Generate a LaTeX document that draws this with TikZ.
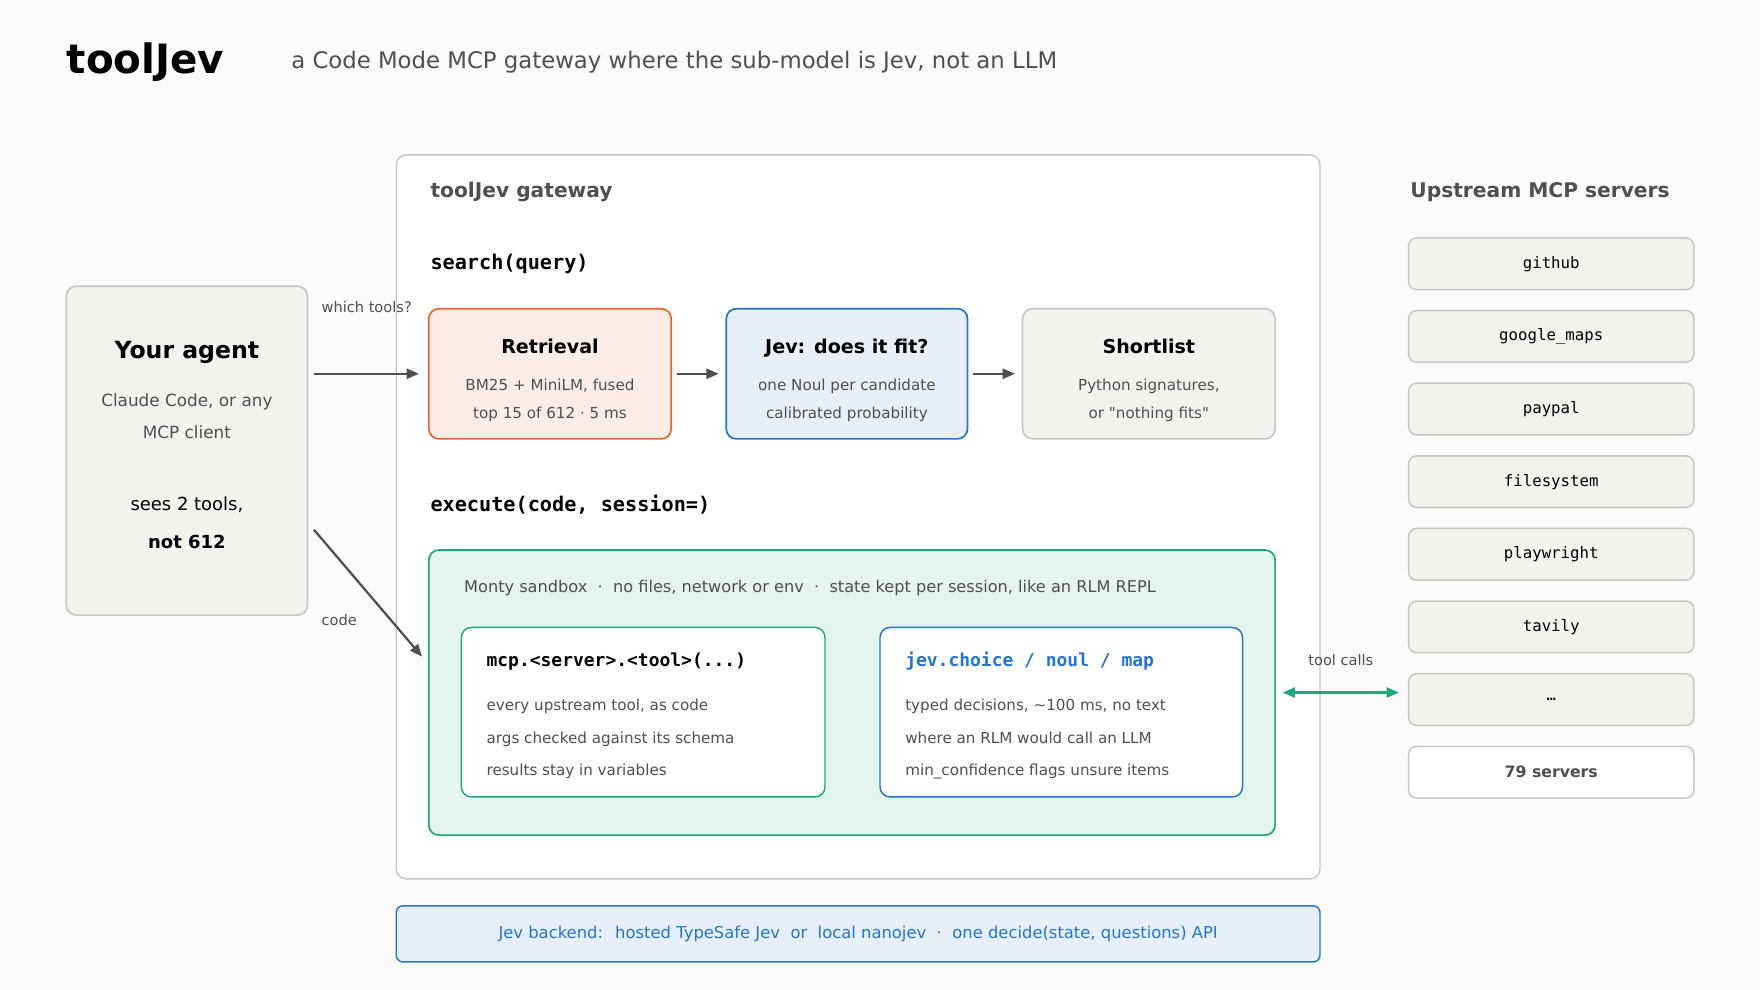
\documentclass[tikz,border=0pt]{standalone}
\usepackage{fontspec}
\setmainfont{DejaVu Sans}
\setsansfont{DejaVu Sans}
\setmonofont{DejaVu Sans Mono}
\newfontfamily\plainquotes{DejaVu Sans}[Ligatures=ResetAll]
\definecolor{jvorange}{HTML}{E8622C}
\definecolor{jvblue}{HTML}{2374D5}
\definecolor{jvgreen}{HTML}{1AAA78}
\definecolor{jvgray}{HTML}{C6C6C2}
\definecolor{jvtext}{HTML}{4F4F4F}
\definecolor{jvbg}{HTML}{FBFBF9}
\definecolor{jvpanel}{HTML}{F3F2EF}
\usetikzlibrary{arrows.meta,positioning,calc}
\newcommand{\fs}[1]{\fontsize{#1}{#1}\selectfont}

\begin{document}
\begin{tikzpicture}[x=1pt, y=-1pt,
  box/.style={draw=#1, line width=1.5pt, rounded corners=9pt, inner sep=0pt},
  card/.style={draw=jvgray, fill=jvpanel, line width=1.3pt, rounded corners=7pt,
    inner sep=0pt, minimum width=254pt, minimum height=46pt, font=\fs{14}\ttfamily},
  head/.style={anchor=base, font=\fs{17}\bfseries, text=black},
  body/.style={anchor=base, font=\fs{13.5}, text=jvtext},
  code/.style={anchor=base west, font=\fs{18}\ttfamily\bfseries, text=black},
  flow/.style={-{Triangle[length=11pt,width=9pt]}, line width=2pt, draw=jvtext}
]
  \useasboundingbox[fill=jvbg] (0,0) rectangle (1568,882);

  % Title
  \node[anchor=west, font=\fs{36}\bfseries] (title) at (56,55) {toolJev};
  \node[anchor=west, font=\fs{20.3}, text=jvtext] (subtitle) at (256,55)
    {a Code Mode MCP gateway where the sub-model is Jev, not an LLM};

  % Gateway frame
  \node[box=jvgray, line width=1.3pt, fill=white, minimum width=823pt, minimum height=645pt]
    (gateway) at (764.5,460.5) {};
  \node[anchor=base west, font=\fs{18}\bfseries, text=jvtext] at (380,176) {toolJev gateway};
  \node[code] (search) at (380,240) {search(query)};

  % Search pipeline
  \node[box=jvorange, fill=jvorange!12, minimum width=216pt, minimum height=116pt] (retrieval) at (490,333) {};
  \node[box=jvblue, fill=jvblue!11, minimum width=215pt, minimum height=116pt] (jev) at (754.5,333) {};
  \node[box=jvgray, fill=jvpanel, minimum width=225pt, minimum height=116pt] (shortlist) at (1023.5,333) {};
  \node[head] at (490,315) {Retrieval};
  \node[body] at (490,348) {BM25 + MiniLM, fused};
  \node[body] at (490,373) {top 15 of 612 · 5 ms};
  \node[head] at (754.5,315) {Jev: does it fit?};
  \node[body] at (754.5,348) {one Noul per candidate};
  \node[body] at (754.5,373) {calibrated probability};
  \node[head] at (1023.5,315) {Shortlist};
  \node[body] at (1023.5,348) {Python signatures,};
  \node[body, font=\fs{13.5}\plainquotes] at (1023.5,373) {or "nothing fits"};
  \draw[flow, shorten <=4pt, shorten >=6pt] (retrieval) -- (jev);
  \draw[flow, shorten <=4pt, shorten >=6pt] (jev) -- (shortlist);

  % Execute
  \node[code] (execute) at (380,456) {execute(code, session=)};
  \node[box=jvgreen, fill=jvgreen!12, minimum width=754pt, minimum height=254pt] (sandbox) at (759,617) {};
  \node[anchor=base west, font=\fs{14.4}, text=jvtext] at (410,528)
    {Monty sandbox \ · \ no files, network or env \ · \ state kept per session, like an RLM REPL};
  \node[box=jvgreen, line width=1.3pt, fill=white, minimum width=324pt, minimum height=151pt] (mcpbox) at (573,634.5) {};
  \node[box=jvblue, line width=1.3pt, fill=white, minimum width=323pt, minimum height=151pt] (jevbox) at (945.5,634.5) {};
  \node[anchor=base west, font=\fs{16}\ttfamily\bfseries] at (430,594) {mcp.<server>.<tool>(...)};
  \node[anchor=base west, font=\fs{16}\ttfamily\bfseries, text=jvblue] at (803,594) {jev.choice / noul / map};
  \node[body, anchor=base west] at (430,633) {every upstream tool, as code};
  \node[body, anchor=base west] at (430,662) {args checked against its schema};
  \node[body, anchor=base west] at (430,691) {results stay in variables};
  \node[body, anchor=base west] at (803,633) {typed decisions, \textasciitilde100 ms, no text};
  \node[body, anchor=base west] at (803,662) {where an RLM would call an LLM};
  \node[body, anchor=base west] at (803,691) {min\_confidence flags unsure items};

  % Agent
  \node[box=jvgray, fill=jvpanel, minimum width=215pt, minimum height=293pt] (agent) at (166.5,401.5) {};
  \node[anchor=base, font=\fs{21}\bfseries] at (166.5,319) {Your agent};
  \node[anchor=base, font=\fs{15}, text=jvtext] at (166.5,362) {Claude Code, or any};
  \node[anchor=base, font=\fs{15}, text=jvtext] at (166.5,391) {MCP client};
  \node[anchor=base, font=\fs{16}] at (166.5,455) {sees 2 tools,};
  \node[anchor=base, font=\fs{16}\bfseries] at (166.5,489) {not 612};
  \draw[flow, shorten <=5pt, shorten >=8pt] (agent.east |- retrieval) -- (retrieval.west);
  \node[anchor=base west, font=\fs{13}, text=jvtext] at (283,278) {which tools?};
  \coordinate (codein) at (376,585);
  \draw[flow] ([xshift=5pt]agent.east |- 0,472) -- (codein);
  \node[anchor=base west, font=\fs{13}, text=jvtext] at (283,557) {code};

  % Upstream servers
  \node[anchor=base west, font=\fs{18}\bfseries, text=jvtext] at (1253,176) {Upstream MCP servers};
  \foreach \name [count=\i] in {github, google\_maps, paypal, filesystem, playwright, tavily, …}
    \node[card] (srv\i) at (1382,{235+64.7*(\i-1)}) {\name};
  \node[card, fill=white, font=\fs{14}\bfseries, text=jvtext] (srvall) at (1382,688) {79 servers};
  \draw[{Triangle[length=11pt,width=9pt]}-{Triangle[length=11pt,width=9pt]}, line width=2pt, jvgreen]
    ([xshift=6pt]sandbox.east) -- node[above=20pt, font=\fs{13}, text=jvtext] {tool calls} ([xshift=-8pt]srv7.west |- sandbox);

  % Backend
  \node[box=jvblue, line width=1.3pt, rounded corners=6pt, fill=jvblue!11, minimum width=823pt, minimum height=50pt,
    font=\fs{14.6}, text=jvblue] (backend) at (764.5,832)
    {Jev backend: \ hosted TypeSafe Jev \ or \ local nanojev \ · \ one decide(state, questions) API};
\end{tikzpicture}
\end{document}
